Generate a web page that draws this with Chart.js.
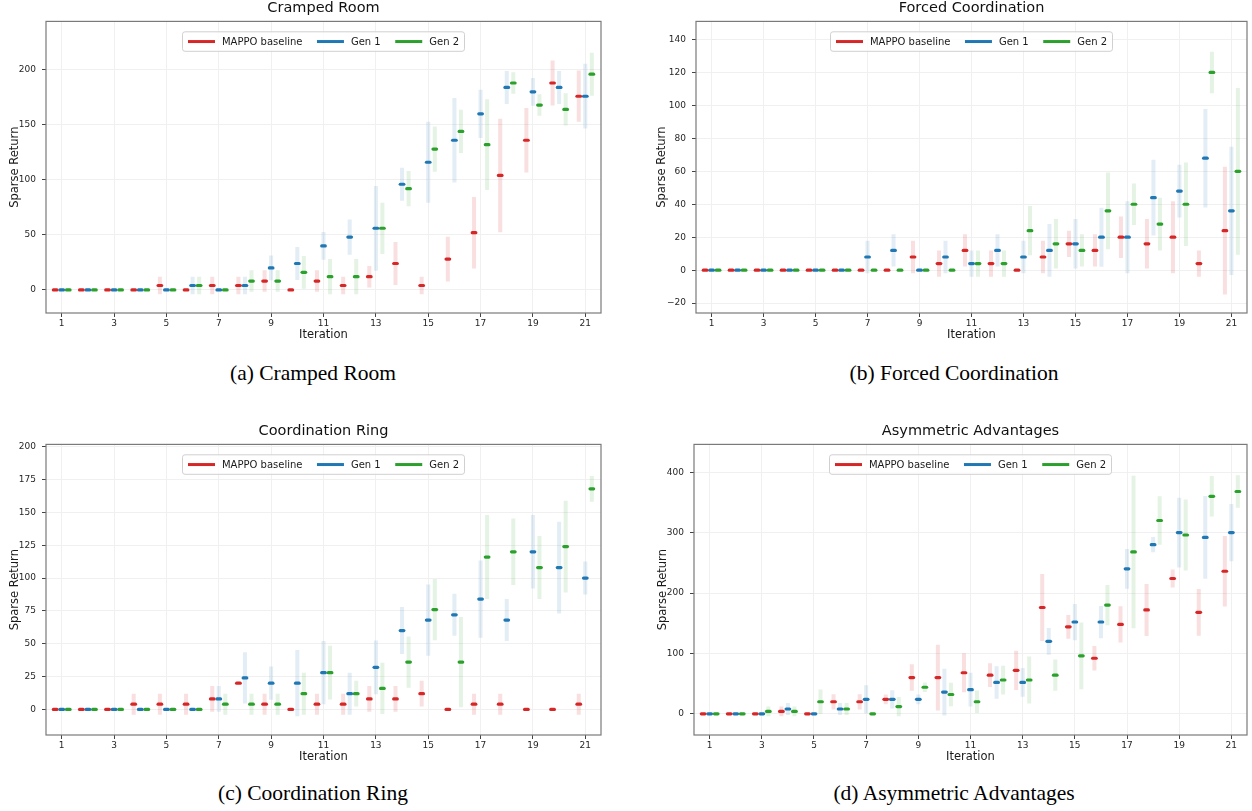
<!DOCTYPE html>
<html>
<head>
<meta charset="utf-8">
<script src="https://cdn.jsdelivr.net/npm/chart.js@4.4.1/dist/chart.umd.min.js"></script>
<style>
  body { margin: 0; background: #fff; }
  #page { position: relative; width: 1252px; height: 811px; overflow: hidden; background: #fff; }
  canvas { position: absolute; }
  .caption {
    position: absolute;
    font-family: "Liberation Serif", "DejaVu Serif", serif;
    font-size: 21.5px;
    line-height: 24px;
    text-align: center;
    color: #000;
  }
</style>
</head>
<body>
<div id="page">
  <canvas id="cramped" width="610" height="342" style="left:0;top:0"></canvas>
  <canvas id="forced" width="602" height="342" style="left:650px;top:0"></canvas>
  <canvas id="ring" width="610" height="341" style="left:0;top:423px"></canvas>
  <canvas id="asym" width="604" height="341" style="left:648px;top:423px"></canvas>
  <div class="caption" style="left:0;width:626px;top:361px">(a) Cramped Room</div>
  <div class="caption" style="left:656px;width:596px;top:361px">(b) Forced Coordination</div>
  <div class="caption" style="left:0;width:626px;top:781px">(c) Coordination Ring</div>
  <div class="caption" style="left:656px;width:596px;top:781px">(d) Asymmetric Advantages</div>
</div>
<script>
const iterations = [1, 2, 3, 4, 5, 6, 7, 8, 9, 10, 11, 12, 13, 14, 15, 16, 17, 18, 19, 20, 21];
const xTicks = [1, 3, 5, 7, 9, 11, 13, 15, 17, 19, 21];
const seriesNames = ["MAPPO baseline", "Gen 1", "Gen 2"];

// Cramped Room (mean and std over seeds)
const crampedMappo = [0, 0, 0, 0, 4, 0, 4, 4, 8, 0, 8, 4, 12, 24, 4, 28, 52, 104, 136, 188, 176];
const crampedMappoStd = [0, 0, 0, 0, 8, 0, 8, 8, 9.8, 0, 9.8, 8, 9.8, 19.6, 8, 20.4, 32.5, 51.6, 29.4, 20.4, 23.3];
const crampedGen1 = [0, 0, 0, 0, 0, 4, 0, 4, 20, 24, 40, 48, 56, 96, 116, 136, 160, 184, 180, 184, 176];
const crampedGen1Std = [0, 0, 0, 0, 0, 8, 0, 8, 11.3, 14.9, 12.6, 16, 38.5, 15, 36.7, 38.5, 21.9, 15, 12.6, 15, 29.4];
const crampedGen2 = [0, 0, 0, 0, 0, 4, 0, 8, 8, 16, 12, 12, 56, 92, 128, 144, 132, 188, 168, 164, 196];
const crampedGen2Std = [0, 0, 0, 0, 0, 8, 0, 9.8, 9.8, 14.9, 16, 16, 23.3, 16, 20.6, 19.6, 41.3, 9.8, 9.8, 14.7, 19.6];
const crampedTicks = [0, 50, 100, 150, 200];

// Forced Coordination
const forcedMappo = [0, 0, 0, 0, 0, 0, 0, 0, 8, 4, 12, 4, 0, 8, 16, 12, 20, 16, 20, 4, 24];
const forcedMappoStd = [0, 0, 0, 0, 0, 0, 0, 0, 9.8, 8, 9.8, 8, 0, 9.8, 8, 9.8, 12.6, 15, 21.9, 8, 38.8];
const forcedGen1 = [0, 0, 0, 0, 0, 0, 8, 12, 0, 8, 4, 12, 8, 12, 16, 20, 20, 44, 48, 68, 36];
const forcedGen1Std = [0, 0, 0, 0, 0, 0, 9.8, 9.8, 0, 9.8, 8, 9.8, 9.8, 16, 15, 17.9, 21.9, 23, 16, 29.9, 38.9];
const forcedGen2 = [0, 0, 0, 0, 0, 0, 0, 0, 0, 0, 4, 4, 24, 16, 12, 36, 40, 28, 40, 120, 60];
const forcedGen2Std = [0, 0, 0, 0, 0, 0, 0, 0, 0, 0, 8, 8, 14.9, 15, 9.8, 23.3, 12.6, 16, 25.3, 12.6, 50.6];
const forcedTicks = [-20, 0, 20, 40, 60, 80, 100, 120, 140];

// Coordination Ring
const ringMappo = [0, 0, 0, 4, 4, 4, 8, 20, 4, 0, 4, 4, 8, 8, 12, 0, 4, 4, 0, 0, 4];
const ringMappoStd = [0, 0, 0, 8, 8, 8, 9.8, 0, 8, 0, 8, 8, 9.8, 9.8, 9.8, 0, 8, 8, 0, 0, 8];
const ringGen1 = [0, 0, 0, 0, 0, 0, 8, 24, 20, 20, 28, 12, 32, 60, 68, 72, 84, 68, 120, 108, 100];
const ringGen1Std = [0, 0, 0, 0, 0, 0, 9.8, 19.6, 12.6, 25.3, 24, 16, 20.4, 17.9, 27.1, 16, 29.4, 16, 28, 34.9, 12.6];
const ringGen2 = [0, 0, 0, 0, 0, 0, 4, 4, 4, 12, 28, 12, 16, 36, 76, 36, 116, 120, 108, 124, 168];
const ringGen2Std = [0, 0, 0, 0, 0, 0, 8, 8, 8, 16, 20.4, 9.8, 19.6, 19.6, 23.3, 34.4, 32, 25.3, 24, 34.9, 9.8];
const ringTicks = [0, 25, 50, 75, 100, 125, 150, 175, 200];

// Asymmetric Advantages
const asymMappo = [0, 0, 0, 4, 0, 20, 20, 24, 60, 60, 68, 64, 72, 176, 144, 92, 148, 172, 224, 168, 236];
const asymMappoStd = [0, 0, 0, 8, 0, 12.6, 12.6, 8, 21.9, 54.4, 32.2, 19.6, 32.6, 55.3, 19.6, 20.4, 29.9, 43.1, 14.9, 38.8, 58.5];
const asymGen1 = [0, 0, 0, 8, 0, 8, 24, 24, 24, 36, 40, 52, 52, 120, 152, 152, 240, 280, 300, 292, 300];
const asymGen1Std = [0, 0, 0, 9.8, 0, 9.8, 23.3, 15, 8, 38.8, 28, 27, 23.8, 22, 30, 26.7, 33, 12.6, 57.6, 68.4, 47.3];
const asymGen2 = [0, 0, 4, 4, 20, 8, 0, 12, 44, 32, 20, 56, 56, 64, 96, 180, 268, 320, 296, 360, 368];
const asymGen2Std = [0, 0, 8, 8, 20.4, 9.8, 0, 16, 8, 19.6, 18.5, 23.8, 38.9, 25.9, 55.4, 33.3, 126.2, 40, 58.8, 33.5, 27];
const asymTicks = [0, 100, 200, 300, 400];

// styling
const seriesColors = ["#d62728", "#1f77b4", "#2ca02c"];
const bandColors = ["rgba(214,39,40,0.15)", "rgba(31,119,180,0.13)", "rgba(44,160,44,0.13)"];
const seriesShift = [-0.25, 0, 0.25];
const fontFamily = "'DejaVu Sans', sans-serif";
const gridColor = "#f0f0f0";

const panels = [
  { id: "cramped", title: "Cramped Room", yMin: -21, yMax: 244, yTicks: crampedTicks, yTitlePad: 8.5, padRight: 9,
    means: [crampedMappo, crampedGen1, crampedGen2], stds: [crampedMappoStd, crampedGen1Std, crampedGen2Std] },
  { id: "forced", title: "Forced Coordination", yMin: -26, yMax: 151, yTicks: forcedTicks, yTitlePad: 5.5, padRight: 2,
    means: [forcedMappo, forcedGen1, forcedGen2], stds: [forcedMappoStd, forcedGen1Std, forcedGen2Std] },
  { id: "ring", title: "Coordination Ring", yMin: -19.5, yMax: 201.8, yTicks: ringTicks, yTitlePad: 8.5, padRight: 9,
    means: [ringMappo, ringGen1, ringGen2], stds: [ringMappoStd, ringGen1Std, ringGen2Std] },
  { id: "asym", title: "Asymmetric Advantages", yMin: -35, yMax: 446, yTicks: asymTicks, yTitlePad: 7.8, padRight: 2,
    means: [asymMappo, asymGen1, asymGen2], stds: [asymMappoStd, asymGen1Std, asymGen2Std] },
];

function formatTick(v) {
  return v < 0 ? "\u2212" + Math.abs(v) : String(v);
}

function buildDatasets(p) {
  const sets = [];
  // faded std bands first, drawn beneath the means
  p.means.forEach((m, s) => {
    const data = [];
    iterations.forEach((it, i) => {
      const sd = p.stds[s][i];
      if (sd > 0) data.push({ x: it + seriesShift[s], y: [m[i] - sd, m[i] + sd] });
    });
    sets.push({
      type: "bar",
      label: seriesNames[s] + " std",
      data,
      backgroundColor: bandColors[s],
      borderWidth: 0,
      grouped: false,
      maxBarThickness: 4,
      order: 2,
    });
  });
  p.means.forEach((m, s) => {
    sets.push({
      type: "scatter",
      label: seriesNames[s],
      data: iterations.map((it, i) => ({ x: it + seriesShift[s], y: m[i] })),
      pointStyle: "line",
      pointRadius: 1.8,
      pointHoverRadius: 1.8,
      pointBorderWidth: 3.2,
      pointBorderColor: seriesColors[s],
      pointBackgroundColor: seriesColors[s],
      order: 1,
    });
  });
  return sets;
}

// frame around plot area, rounded mean marks, legend inside the axes
const axesDecor = {
  id: "axesDecor",
  beforeDatasetsDraw(chart) {
    chart.ctx.lineCap = "round";
  },
  afterDatasetsDraw(chart) {
    chart.ctx.lineCap = "butt";
  },
  afterDraw(chart) {
    const { ctx, chartArea } = chart;
    ctx.save();
    ctx.strokeStyle = "#7a7a7a";
    ctx.lineWidth = 1.2;
    ctx.strokeRect(chartArea.left, chartArea.top, chartArea.right - chartArea.left, chartArea.bottom - chartArea.top);

    ctx.font = "10px " + fontFamily;
    const widths = seriesNames.map((n) => ctx.measureText(n).width);
    const handle = 27, handleGap = 7, colGap = 14.5, padX = 5.5, boxH = 19.5;
    const boxW = padX * 2 + widths.reduce((sum, w) => sum + handle + handleGap + w, 0) + colGap * (widths.length - 1);
    const x0 = (chartArea.left + chartArea.right) / 2 - boxW / 2;
    const y0 = chartArea.top + 10.4;
    ctx.beginPath();
    ctx.roundRect(x0, y0, boxW, boxH, 2.5);
    ctx.fillStyle = "rgba(255,255,255,0.8)";
    ctx.fill();
    ctx.strokeStyle = "#d0d0d0";
    ctx.lineWidth = 1;
    ctx.stroke();

    const yc = y0 + boxH / 2;
    let x = x0 + padX;
    seriesNames.forEach((name, i) => {
      ctx.beginPath();
      ctx.strokeStyle = seriesColors[i];
      ctx.lineWidth = 3;
      ctx.moveTo(x, yc);
      ctx.lineTo(x + handle, yc);
      ctx.stroke();
      x += handle + handleGap;
      ctx.fillStyle = "#1a1a1a";
      ctx.textBaseline = "middle";
      ctx.textAlign = "left";
      ctx.fillText(name, x, yc + 0.5);
      x += widths[i] + colGap;
    });
    ctx.restore();
  },
};

function renderPanel(p) {
  const ctx = document.getElementById(p.id).getContext("2d");
  return new Chart(ctx, {
    type: "scatter",
    data: { datasets: buildDatasets(p) },
    options: {
      responsive: false,
      animation: false,
      layout: { padding: { left: 0, right: p.padRight, top: 0, bottom: 0 } },
      plugins: {
        legend: { display: false },
        tooltip: { enabled: false },
        title: {
          display: true,
          fullSize: false,
          text: p.title,
          color: "#111",
          font: { family: fontFamily, size: 14.5, weight: "normal" },
          padding: { top: 0, bottom: 4 },
        },
      },
      scales: {
        x: {
          type: "linear",
          min: 0.4,
          max: 21.6,
          offset: false,
          afterBuildTicks: (s) => { s.ticks = xTicks.map((v) => ({ value: v })); },
          afterFit: (s) => { s.height = 29; },
          grid: { color: gridColor, offset: false, tickLength: 4, tickColor: "#444" },
          border: { display: false },
          ticks: { autoSkip: false, maxRotation: 0, padding: 1, color: "#262626", font: { family: fontFamily, size: 9 } },
          title: { display: true, text: "Iteration", color: "#1a1a1a", font: { family: fontFamily, size: 11.5 }, padding: { top: 0, bottom: 0 } },
        },
        y: {
          type: "linear",
          min: p.yMin,
          max: p.yMax,
          afterBuildTicks: (s) => { s.ticks = p.yTicks.map((v) => ({ value: v })); },
          afterFit: (s) => { s.width = 46; },
          grid: { color: gridColor, tickLength: 4, tickColor: "#444" },
          border: { display: false },
          ticks: { autoSkip: false, padding: 6, color: "#262626", font: { family: fontFamily, size: 9 }, callback: formatTick },
          title: { display: true, text: "Sparse Return", color: "#1a1a1a", font: { family: fontFamily, size: 11.5 }, padding: { top: p.yTitlePad, bottom: 0 } },
        },
      },
    },
    plugins: [axesDecor],
  });
}

panels.forEach(renderPanel);
</script>
</body>
</html>
